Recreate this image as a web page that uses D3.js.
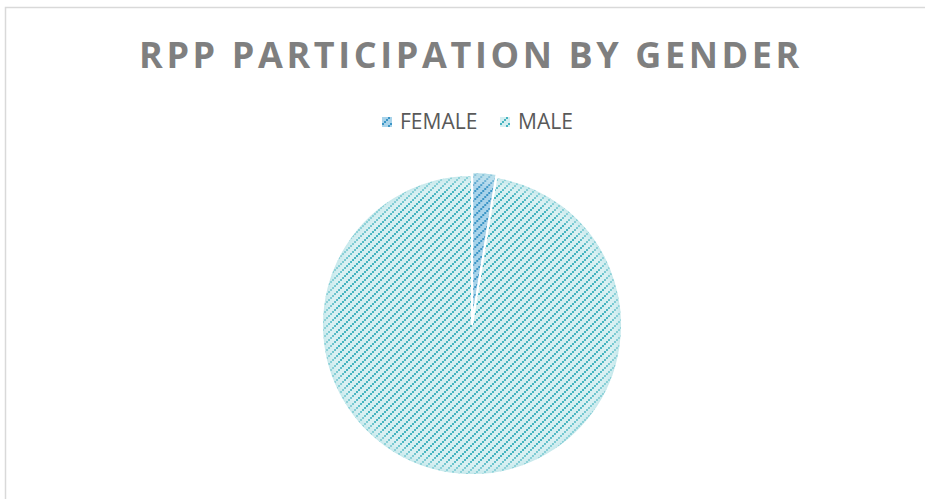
<!DOCTYPE html>
<html>
<head>
<meta charset="utf-8">
<script src="https://cdn.jsdelivr.net/npm/d3@7"></script>
<style>
  body { margin: 0; background: #fff; }
  svg { display: block; }
</style>
</head>
<body>
<svg id="chart"></svg>
<script>
// RPP participation pie

let title = 'RPP PARTICIPATION BY GENDER'
let genders = ['FEMALE', 'MALE']
let shares = [2.6, 97.4]   // percent

let width = 925
let height = 499
let cx = 472
let cy = 325
let radius = 150

let fills = { FEMALE: '#a8d3ea', MALE: '#d6eff1' }
let strokes = { FEMALE: '#3b95c6', MALE: '#45b4c0' }

let svg = d3.select('#chart')
            .attr('width', width)
            .attr('height', height)

// chart frame
svg.append('rect')
   .attr('x', 5.5)
   .attr('y', 7.5)
   .attr('width', width)
   .attr('height', height)
   .attr('fill', '#fff')
   .attr('stroke', '#d9d9d9')
   .attr('stroke-width', 1.5)

let defs = svg.append('defs')

// dashed upward diagonal pattern, one per series
genders.forEach((g) => {
  let p = defs.append('pattern')
              .attr('id', 'pat-' + g)
              .attr('patternUnits', 'userSpaceOnUse')
              .attr('width', 8)
              .attr('height', 8)
  p.append('rect').attr('width', 8).attr('height', 8).attr('fill', fills[g])
  ;[[0, 6], [2, 4], [4, 2], [6, 0]].forEach(([x, y]) => {
    p.append('rect')
     .attr('x', x).attr('y', y)
     .attr('width', 2).attr('height', 2)
     .attr('fill', strokes[g])
  })
})

// soft edge on the slices
let soft = defs.append('radialGradient')
               .attr('id', 'soft')
               .attr('gradientUnits', 'userSpaceOnUse')
               .attr('cx', 0).attr('cy', 0).attr('r', radius)
soft.append('stop').attr('offset', '0.9').attr('stop-color', '#fff').attr('stop-opacity', 0)
soft.append('stop').attr('offset', '1').attr('stop-color', '#b8e3e7').attr('stop-opacity', 0.7)

// title
svg.append('text')
   .attr('x', 471)
   .attr('y', 68)
   .attr('text-anchor', 'middle')
   .style('font-family', '"Open Sans", sans-serif')
   .style('font-weight', 'bold')
   .style('font-size', '36px')
   .style('letter-spacing', '3.6px')
   .attr('fill', '#7f7f7f')
   .text(title)

// legend
let legendX = d3.scaleOrdinal()
                .domain(genders)
                .range([382, 500])

let legend = svg.append('g')
                .selectAll('g')
                .data(genders)
                .enter()
                .append('g')
                .attr('transform', (d) => `translate(${legendX(d)},117)`)

legend.append('rect')
      .attr('width', 10)
      .attr('height', 10)
      .attr('fill', (d) => `url(#pat-${d})`)

legend.append('text')
      .attr('x', 18)
      .attr('y', 11.5)
      .style('font-family', '"Open Sans", sans-serif')
      .style('font-size', '21px')
      .attr('fill', '#595959')
      .text((d) => d)

// pie
let pie = d3.pie().sort(null)
let arcs = pie(shares)
let arc = d3.arc().innerRadius(0).outerRadius(radius)

let pieG = svg.append('g')
              .attr('transform', `translate(${cx},${cy})`)

let slices = pieG.selectAll('g.slice')
                 .data(arcs)
                 .enter()
                 .append('g')
                 .attr('class', 'slice')
                 .attr('transform', (d, i) => {
                   if (genders[i] !== 'FEMALE') return null
                   let mid = (d.startAngle + d.endAngle) / 2
                   let off = 3
                   return `translate(${Math.sin(mid) * off},${-Math.cos(mid) * off})`
                 })

slices.append('path')
      .attr('d', arc)
      .attr('fill', (d, i) => `url(#pat-${genders[i]})`)

slices.append('path')
      .attr('d', arc)
      .attr('fill', 'url(#soft)')
      .attr('stroke', '#fff')
      .attr('stroke-width', 2)
</script>
</body>
</html>
